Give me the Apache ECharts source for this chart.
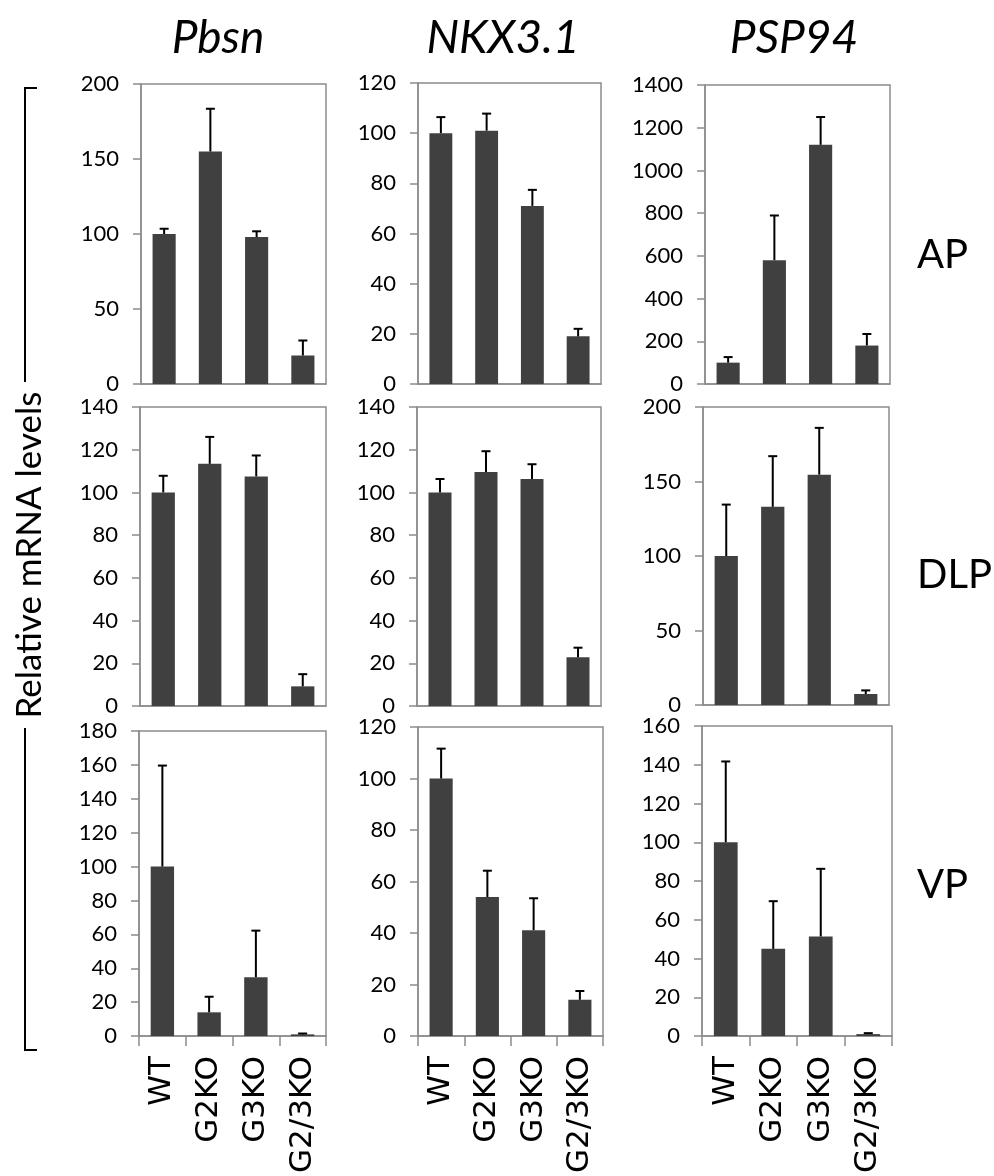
<!DOCTYPE html>
<html>
<head>
<meta charset="utf-8">
<script src="https://cdn.jsdelivr.net/npm/echarts@6/dist/echarts.min.js"></script>
<style>
html,body{margin:0;padding:0;background:#fff;}
#c{width:994px;height:1176px;}
</style>
</head>
<body>
<div id="c"></div>
<script>
// ---- data ----
const categories = ['WT', 'G2KO', 'G3KO', 'G2/3KO'];
const genes = ['Pbsn', 'NKX3.1', 'PSP94'];
const regions = ['AP', 'DLP', 'VP'];

const pbsnAP = [100, 155, 98, 19];
const pbsnAPErr = [3.5, 28.5, 3.8, 10];
const nkxAP = [100, 101, 71, 19];
const nkxAPErr = [6.4, 6.8, 6.4, 3];
const psp94AP = [100, 580, 1120, 180];
const psp94APErr = [26, 209, 130, 54];

const pbsnDLP = [100, 113.4, 107.5, 9.2];
const pbsnDLPErr = [7.8, 12.6, 9.8, 5.7];
const nkxDLP = [100, 109.6, 106.3, 22.8];
const nkxDLPErr = [6.3, 9.7, 6.9, 4.5];
const psp94DLP = [100, 133, 154.6, 7.4];
const psp94DLPErr = [34.5, 34, 31.4, 2.4];

const pbsnVP = [100, 14, 34.7, 1];
const pbsnVPErr = [59.6, 9.2, 27.5, 0.5];
const nkxVP = [100, 54, 41.1, 14.1];
const nkxVPErr = [11.6, 10.2, 12.4, 3.4];
const psp94VP = [100, 45, 51.4, 1];
const psp94VPErr = [41.7, 24.6, 34.9, 0.5];

// y-axis ranges per panel [max, interval]
const yMax = [200, 120, 1400, 140, 140, 200, 180, 120, 160];
const yStep = [50, 20, 200, 20, 20, 50, 20, 20, 20];

const panelValues = [pbsnAP, nkxAP, psp94AP, pbsnDLP, nkxDLP, psp94DLP, pbsnVP, nkxVP, psp94VP];
const panelErrors = [pbsnAPErr, nkxAPErr, psp94APErr, pbsnDLPErr, nkxDLPErr, psp94DLPErr, pbsnVPErr, nkxVPErr, psp94VPErr];

// ---- layout ----
const gridBoxes = [
  [141, 84, 185, 300], [418, 83, 183, 301], [705, 85, 185, 299],
  [140, 407, 186, 299], [417, 407, 184, 299], [703, 407, 186, 298],
  [139, 731, 187, 306], [418, 727, 185, 313], [702, 726, 190, 317]
];

const FONT = 'Lato, "Open Sans", sans-serif';
const grids = [], xAxes = [], yAxes = [], series = [];

gridBoxes.forEach((b, i) => {
  const bottomRow = i >= 6;
  grids.push({left: b[0], top: b[1], width: b[2], height: b[3], show: true,
    borderColor: '#8c8c8c', borderWidth: 1.5, backgroundColor: 'transparent'});
  xAxes.push({
    type: 'category', gridIndex: i, data: categories,
    axisLine: {show: true, lineStyle: {color: '#8c8c8c', width: 1.5}},
    axisTick: {show: bottomRow, length: 10, lineStyle: {color: '#8c8c8c', width: 1.5}},
    axisLabel: {show: bottomRow, rotate: 90, margin: 20, fontSize: 31, color: '#000', fontFamily: 'DejaVu Sans'},
    splitLine: {show: false}
  });
  yAxes.push({
    type: 'value', gridIndex: i, min: 0, max: yMax[i], interval: yStep[i],
    axisLine: {show: true, lineStyle: {color: '#8c8c8c', width: 1.5}},
    axisTick: {show: true, length: 8, lineStyle: {color: '#8c8c8c', width: 1.5}},
    axisLabel: {margin: 22, fontSize: 22, color: '#000', fontFamily: FONT, formatter: v => String(v)},
    splitLine: {show: false}
  });
  series.push({
    type: 'bar', xAxisIndex: i, yAxisIndex: i, data: panelValues[i],
    barWidth: '50%', itemStyle: {color: '#404040'}, z: 2, silent: true
  });
  const errData = panelValues[i].map((v, k) => [k, v, v + panelErrors[i][k]]);
  series.push({
    type: 'custom', xAxisIndex: i, yAxisIndex: i, data: errData, z: 3, silent: true,
    renderItem: function (params, api) {
      const x = api.value(0);
      const p0 = api.coord([x, api.value(1)]);
      const p1 = api.coord([x, api.value(2)]);
      const hw = 4.5;
      return {
        type: 'group',
        children: [
          {type: 'line', shape: {x1: p0[0], y1: p0[1], x2: p1[0], y2: p1[1]}, style: {stroke: '#000', lineWidth: 2}},
          {type: 'line', shape: {x1: p1[0] - hw, y1: p1[1], x2: p1[0] + hw, y2: p1[1]}, style: {stroke: '#000', lineWidth: 2}}
        ]
      };
    }
  });
});

const titles = [
  {text: genes[0], left: 213, top: 10, textAlign: 'center'},
  {text: genes[1], left: 498, top: 10, textAlign: 'center'},
  {text: genes[2], left: 789, top: 10, textAlign: 'center'}
].map(t => Object.assign(t, {textStyle: {fontSize: 46, fontStyle: 'italic', fontWeight: 'normal', color: '#000', fontFamily: FONT}}));

const regionY = [255, 575, 885];
regions.forEach((r, i) => {
  titles.push({text: r, left: 912, top: regionY[i] - 25,
    textStyle: {fontSize: 40, fontWeight: 'normal', color: '#000', fontFamily: FONT}});
});

const chart = echarts.init(document.getElementById('c'), null, {renderer: 'canvas'});
chart.setOption({
  animation: false,
  backgroundColor: '#fff',
  title: titles,
  grid: grids, xAxis: xAxes, yAxis: yAxes, series: series,
  graphic: [
    {type: 'polyline', shape: {points: [[37, 88], [25, 88], [25, 382]]}, style: {stroke: '#000', lineWidth: 2, fill: null}},
    {type: 'polyline', shape: {points: [[25, 728], [25, 1050], [37, 1050]]}, style: {stroke: '#000', lineWidth: 2, fill: null}},
    {type: 'text', x: 30, y: 555, rotation: Math.PI / 2,
      style: {text: 'Relative mRNA levels', fontSize: 35, fill: '#000', fontFamily: FONT, align: 'center', verticalAlign: 'middle'}}
  ]
});
</script>
</body>
</html>
